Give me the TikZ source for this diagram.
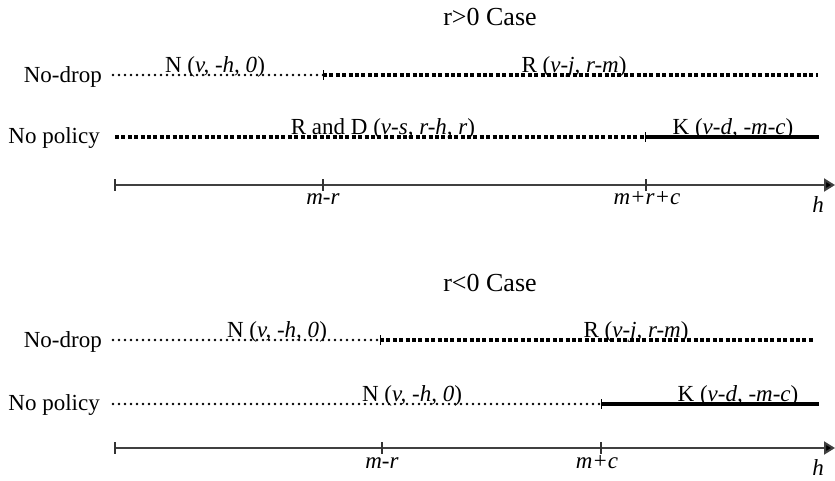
\documentclass[tikz,border=0pt]{standalone}
\usepackage{fontspec}
\setmainfont{Liberation Serif}
\usetikzlibrary{arrows.meta}
\begin{document}
\begin{tikzpicture}[x=1pt,y=-1pt,
  lbl/.style={font=\fontsize{23}{27}\selectfont, inner sep=0pt, anchor=base},
  ttl/.style={font=\fontsize{26}{30}\selectfont, inner sep=0pt},
  rowname/.style={lbl, anchor=base east},
  dots/.style={line width=2.8pt, line cap=round, dash pattern=on 0pt off 6pt},
  sqdots/.style={line width=3.6pt, dash pattern=on 4pt off 2.4pt},
  solidseg/.style={line width=4pt},
  axisline/.style={line width=2pt, draw=black!75, -{Triangle[length=11pt,width=13pt,fill=black]}},
  tickmark/.style={line width=1pt},
  axtick/.style={line width=1.2pt, draw=black!80},
]
\useasboundingbox (0,0) rectangle (835,480);

% ---------- r>0 case ----------
\node[ttl] (title1) at (490,17) {r>0 Case};

\node[rowname] (nodrop1) at (102,82) {No-drop};
\coordinate (a0) at (113,75);
\coordinate (a1) at (323,75);
\coordinate (a2) at (818,75);
\draw[dots] (a0) -- (a1);
\draw[sqdots] (a1) -- (a2);
\draw[tickmark] ([yshift=5pt]a1) -- ([yshift=-5pt]a1);
\node[lbl] (n1) at (215,72) {N (\textit{v, -h, 0})};
\node[lbl] (r1) at (574,72) {R (\textit{v-j, r-m})};

\node[rowname] (nopol1) at (100,143) {No policy};
\coordinate (b0) at (115,137);
\coordinate (b1) at (645,137);
\coordinate (b2) at (819,137);
\draw[sqdots] (b0) -- (b1);
\draw[solidseg] (b1) -- (b2);
\draw[tickmark] ([yshift=5pt]b1) -- ([yshift=-5pt]b1);
\node[lbl] (rd1) at (383,134) {R and D (\textit{v-s, r-h, r})};
\node[lbl] (k1) at (733,134) {K (\textit{v-d, -m-c})};

\coordinate (c0) at (115,185);
\coordinate (c1) at (323,185);
\coordinate (c2) at (646,185);
\coordinate (c3) at (835,185);
\draw[axisline] (c0) -- (c3);
\foreach \p in {c0,c1,c2}
  \draw[axtick] ([yshift=6pt]\p) -- ([yshift=-6pt]\p);
\node[lbl] (mr1) at (323,204) {\textit{m-r}};
\node[lbl] (mrc1) at (647,204) {\textit{m+r+c}};
\node[lbl] (h1) at (818,212) {\textit{h}};

% ---------- r<0 case ----------
\node[ttl] (title2) at (490,283) {r<0 Case};

\node[rowname] (nodrop2) at (102,347) {No-drop};
\coordinate (d0) at (113,340);
\coordinate (d1) at (380,340);
\coordinate (d2) at (815,340);
\draw[dots] (d0) -- (d1);
\draw[sqdots] (d1) -- (d2);
\draw[tickmark] ([yshift=5pt]d1) -- ([yshift=-5pt]d1);
\node[lbl] (n2) at (277,337) {N (\textit{v, -h, 0})};
\node[lbl] (r2) at (636,337) {R (\textit{v-j, r-m})};

\node[rowname] (nopol2) at (100,410) {No policy};
\coordinate (e0) at (113,404);
\coordinate (e1) at (601,404);
\coordinate (e2) at (819,404);
\draw[dots] (e0) -- (e1);
\draw[solidseg] (e1) -- (e2);
\draw[tickmark] ([yshift=5pt]e1) -- ([yshift=-5pt]e1);
\node[lbl] (n3) at (412,401) {N (\textit{v, -h, 0})};
\node[lbl] (k2) at (738,401) {K (\textit{v-d, -m-c})};

\coordinate (f0) at (115,448);
\coordinate (f1) at (382,448);
\coordinate (f2) at (601,448);
\coordinate (f3) at (835,448);
\draw[axisline] (f0) -- (f3);
\foreach \p in {f0,f1,f2}
  \draw[axtick] ([yshift=6pt]\p) -- ([yshift=-6pt]\p);
\node[lbl] (mr2) at (382,468) {\textit{m-r}};
\node[lbl] (mc2) at (597,468) {\textit{m+c}};
\node[lbl] (h2) at (818,475) {\textit{h}};
\end{tikzpicture}
\end{document}
